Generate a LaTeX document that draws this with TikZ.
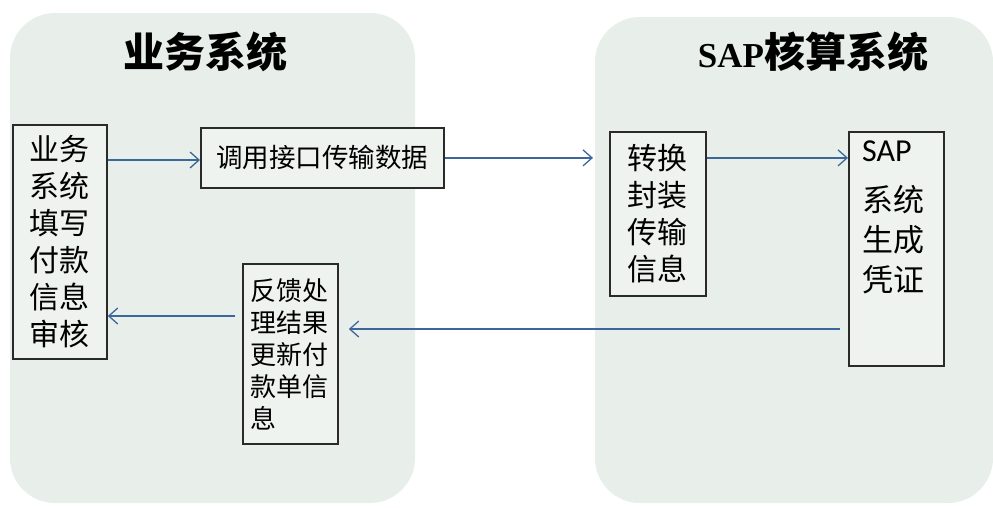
\documentclass[tikz,border=0pt]{standalone}
\usepackage{fontspec}
\setmainfont{Noto Sans CJK SC}
\newfontfamily\latinsf{Carlito}
\newfontfamily\latinserif{Liberation Serif}
\usetikzlibrary{arrows.meta}
\definecolor{panelfill}{HTML}{E8EFEA}
\definecolor{boxfill}{HTML}{EEF3F0}
\definecolor{arrowblue}{HTML}{3D679A}
\definecolor{boxline}{HTML}{2A2A2A}
\begin{document}
\begin{tikzpicture}[x=1pt,y=-1pt,
  panel/.style={fill=panelfill, draw=none, rounded corners=45pt},
  box/.style={draw=boxline, line width=1.8pt, fill=boxfill, inner sep=0pt, anchor=north west},
  flow/.style={draw=arrowblue, line width=1.3pt, -{Straight Barb[length=9pt,width=16pt,line width=1.3pt]}},
  title/.style={font=\bfseries\fontsize{41pt}{44pt}\selectfont, inner sep=0pt},
  ]
\fill[white] (0,0) rectangle (993,507);
\useasboundingbox (0,0) rectangle (993,507);
\path[panel] (10,13) rectangle (415,503);
\path[panel] (595,17) rectangle (993,503);

\node[title] (t1) at (205,52) {业务系统};
\node[title] (t2) at (813,52) {{\latinserif\fontsize{35pt}{40pt}\selectfont SAP}核算系统};

\node[box, minimum width=94pt, minimum height=234pt, align=center,
      font=\fontsize{30pt}{37pt}\selectfont] (lbox) at (12,124) {业务\\系统\\填写\\付款\\信息\\审核};
\node[box, minimum width=243pt, minimum height=60pt,
      font=\fontsize{26.5pt}{30pt}\selectfont] (call) at (200,127) {调用接口传输数据};
\node[box, minimum width=95pt, minimum height=180pt, align=left, text width=80pt,
      font=\fontsize{26pt}{32pt}\selectfont] (fb) at (242,263) {反馈处\\理结果\\更新付\\款单信\\息};
\node[box, minimum width=96pt, minimum height=164pt, align=center,
      font=\fontsize{30pt}{37pt}\selectfont] (conv) at (609,131) {转换\\封装\\传输\\信息};
\node[box, minimum width=95pt, minimum height=234pt] (sap) at (848,131) {};
\node[anchor=north west, inner sep=0pt, align=left,
      font=\fontsize{31pt}{40pt}\selectfont] (sapt) at ([shift={(14,10)}]sap.north west)
      {{\latinsf\fontsize{32pt}{40pt}\selectfont SAP}\\[10pt]系统\\生成\\凭证};

\coordinate (ya) at (0,160);
\coordinate (yb) at (0,329);
\coordinate (yc) at (0,316);
\draw[flow] (lbox.east |- ya) -- (call.west |- ya);
\draw[flow, shorten >=16pt] (call.east) -- (call.east -| conv.west);
\draw[flow] (conv.east |- call.east) -- (sap.west |- call.east);
\draw[flow, shorten <=8pt, shorten >=10pt] (sap.west |- yb) -- (fb.east |- yb);
\draw[flow, shorten <=7pt] (fb.west |- yc) -- (lbox.east |- yc);
\end{tikzpicture}
\end{document}
